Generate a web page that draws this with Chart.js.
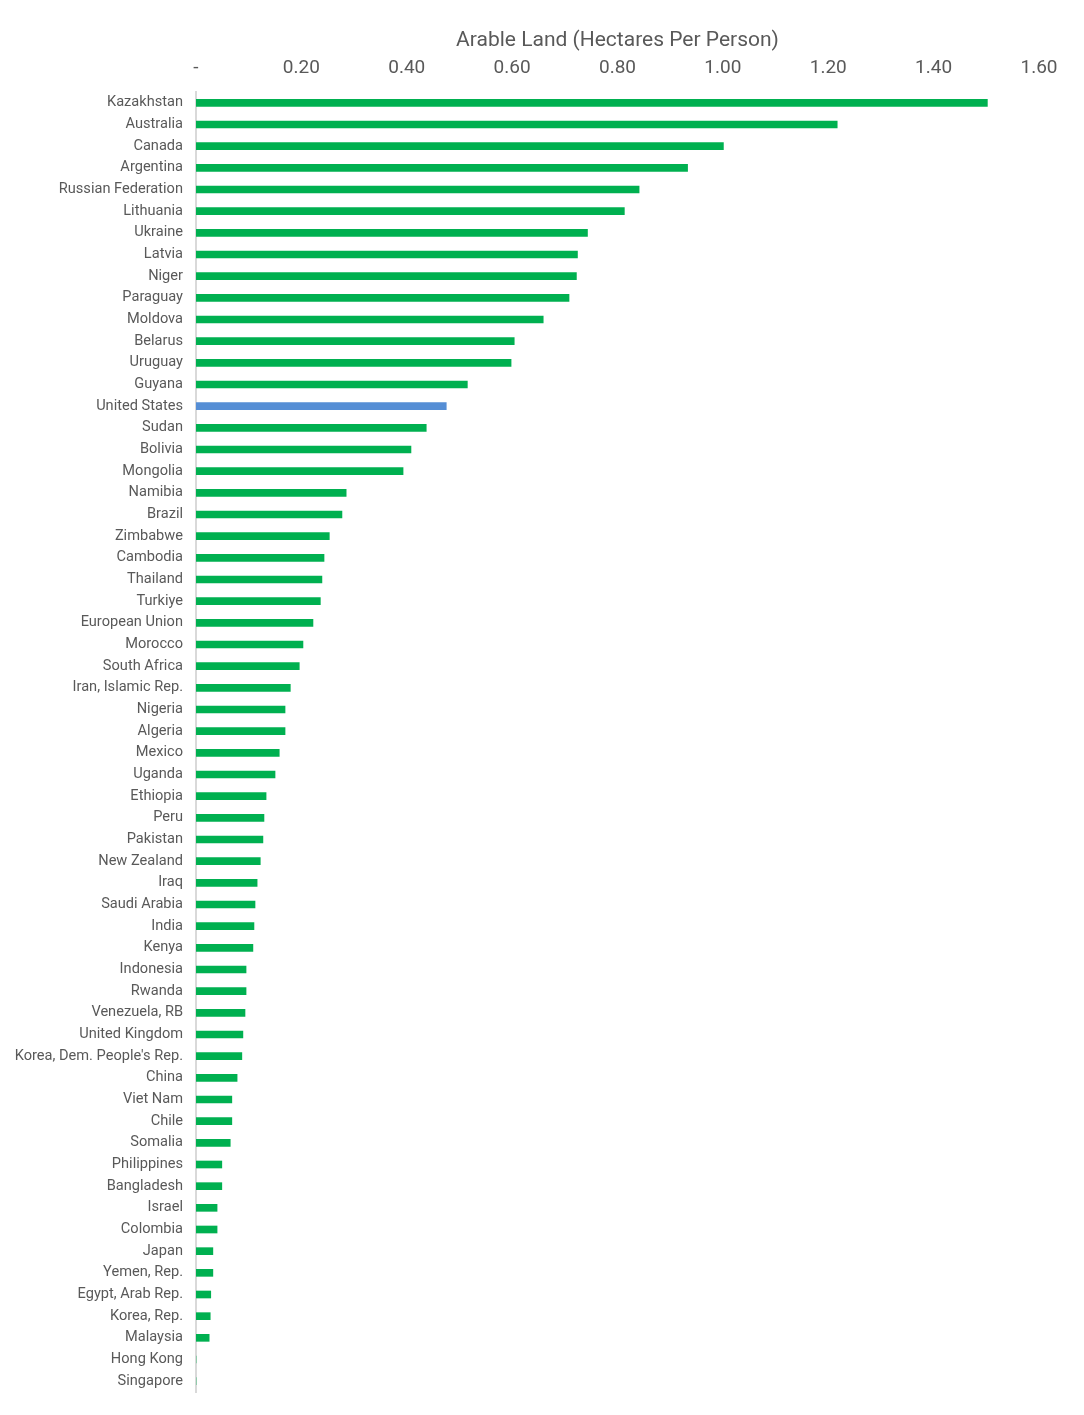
<!DOCTYPE html>
<html>
<head>
<meta charset="utf-8">
<script src="https://cdn.jsdelivr.net/npm/chart.js@4"></script>
<style>
  html, body { margin: 0; padding: 0; background: #fff; }
  #wrap { width: 1084px; height: 1415px; }
</style>
</head>
<body>
<div id="wrap"><canvas id="chart" width="1084" height="1415"></canvas></div>
<script>
const countries = [
  'Kazakhstan', 'Australia', 'Canada', 'Argentina', 'Russian Federation',
  'Lithuania', 'Ukraine', 'Latvia', 'Niger', 'Paraguay',
  'Moldova', 'Belarus', 'Uruguay', 'Guyana', 'United States',
  'Sudan', 'Bolivia', 'Mongolia', 'Namibia', 'Brazil',
  'Zimbabwe', 'Cambodia', 'Thailand', 'Turkiye', 'European Union',
  'Morocco', 'South Africa', 'Iran, Islamic Rep.', 'Nigeria', 'Algeria',
  'Mexico', 'Uganda', 'Ethiopia', 'Peru', 'Pakistan',
  'New Zealand', 'Iraq', 'Saudi Arabia', 'India', 'Kenya',
  'Indonesia', 'Rwanda', 'Venezuela, RB', 'United Kingdom', "Korea, Dem. People's Rep.",
  'China', 'Viet Nam', 'Chile', 'Somalia', 'Philippines',
  'Bangladesh', 'Israel', 'Colombia', 'Japan', 'Yemen, Rep.',
  'Egypt, Arab Rep.', 'Korea, Rep.', 'Malaysia', 'Hong Kong', 'Singapore'
];

const hectaresPerPerson = [
  1.502, 1.217, 1.001, 0.933, 0.841,
  0.813, 0.743, 0.724, 0.722, 0.708,
  0.659, 0.604, 0.598, 0.515, 0.475,
  0.437, 0.408, 0.393, 0.285, 0.277,
  0.253, 0.243, 0.239, 0.236, 0.222,
  0.203, 0.196, 0.179, 0.169, 0.169,
  0.158, 0.150, 0.133, 0.129, 0.127,
  0.122, 0.116, 0.112, 0.110, 0.108,
  0.095, 0.095, 0.093, 0.089, 0.087,
  0.078, 0.068, 0.068, 0.065, 0.049,
  0.049, 0.040, 0.040, 0.032, 0.032,
  0.028, 0.027, 0.025, 0, 0
];

const highlight = 'United States';
const barColors = countries.map(c => c === highlight ? '#558ed5' : '#00b050');

const textColor = '#595959';
const font = 'Roboto, "Noto Sans", sans-serif';

new Chart(document.getElementById('chart'), {
  type: 'bar',
  data: {
    labels: countries,
    datasets: [{
      label: 'Arable Land (Hectares Per Person)',
      data: hectaresPerPerson,
      backgroundColor: barColors,
      barThickness: 7,
      borderWidth: 0
    }]
  },
  options: {
    indexAxis: 'y',
    responsive: false,
    animation: false,
    layout: { padding: { left: 0, right: 45, top: 0, bottom: 23 } },
    plugins: {
      legend: { display: false },
      tooltip: { enabled: false }
    },
    scales: {
      x: {
        position: 'top',
        min: 0,
        max: 1.6,
        grid: { display: false, drawTicks: false },
        border: { display: false },
        ticks: {
          stepSize: 0.2,
          color: textColor,
          padding: 12,
          font: { family: font, size: 19 },
          callback: v => v === 0 ? '-' : v.toFixed(2)
        },
        title: {
          display: true,
          text: 'Arable Land (Hectares Per Person)',
          color: textColor,
          font: { family: font, size: 21 },
          padding: { top: 28, bottom: 2 }
        },
        afterFit: s => { s.height = 92; }
      },
      y: {
        grid: { display: false, drawTicks: false },
        border: { display: true, color: '#d9d9d9', width: 2 },
        ticks: {
          autoSkip: false,
          color: textColor,
          padding: 13,
          font: { family: font, size: 14.6 }
        },
        afterFit: s => { s.width = 196; }
      }
    }
  }
});
</script>
</body>
</html>
